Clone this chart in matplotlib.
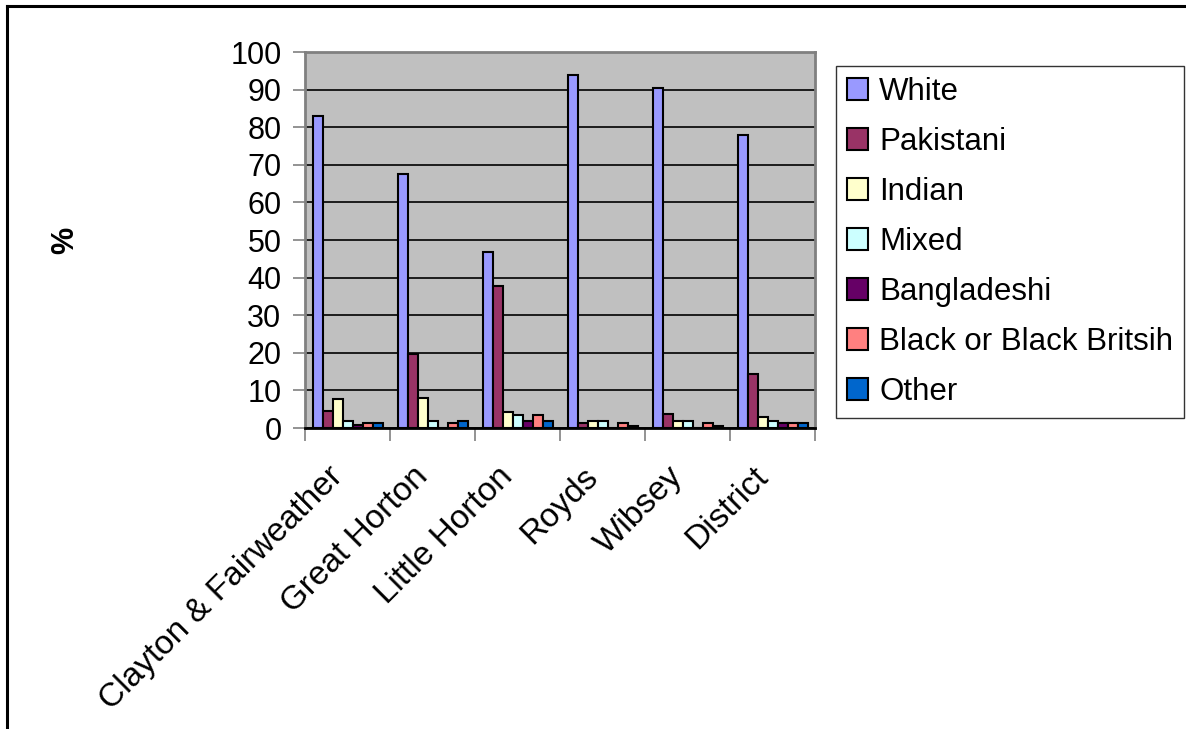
import numpy as np
from matplotlib import pyplot as plt
from matplotlib.lines import Line2D
from matplotlib.transforms import ScaledTranslation

wards = ['Clayton & Fairweather', 'Great Horton', 'Little Horton', 'Royds', 'Wibsey', 'District']
groups = ['White', 'Pakistani', 'Indian', 'Mixed', 'Bangladeshi', 'Black or Black Britsih', 'Other']

white = [83.0, 67.6, 46.8, 94.0, 90.4, 77.9]
pakistani = [4.6, 19.6, 37.8, 1.2, 3.6, 14.4]
indian = [7.6, 8.1, 4.2, 1.8, 1.9, 3.0]
mixed = [1.8, 1.9, 3.5, 1.8, 1.9, 1.9]
bangladeshi = [0.7, 0.0, 1.8, 0.0, 0.0, 1.3]
black = [1.4, 1.3, 3.5, 1.3, 1.3, 1.3]
other = [1.4, 1.9, 1.8, 0.6, 0.6, 1.3]

series = [white, pakistani, indian, mixed, bangladeshi, black, other]
colors = ['#9999FF', '#993366', '#FFFFCC', '#CCFFFF', '#660066', '#FF8080', '#0066CC']

plt.rcParams['font.family'] = ['Liberation Sans', 'DejaVu Sans']

fig = plt.figure(figsize=(11.86, 7.29), dpi=100)
ax = fig.add_axes([305 / 1186, 1 - 428 / 729, 510 / 1186, 376 / 729])
ax.set_facecolor('#C0C0C0')

n = len(series)
width = 1 / (n + 1.5)
x = np.arange(len(wards))
for i, (vals, color, name) in enumerate(zip(series, colors, groups)):
    pos = x + 0.75 * width + (i + 0.5) * width
    ax.bar(pos, vals, width=width, color=color, edgecolor='black', linewidth=1.5,
           label=name, zorder=3)

ax.set_xlim(0, len(wards))
ax.set_ylim(0, 100)
ax.set_yticks(range(0, 101, 10))
ax.yaxis.grid(True, color='black', linewidth=1.2, zorder=1)
ax.set_axisbelow(True)

ax.set_xticks(np.arange(len(wards) + 1))
ax.set_xticklabels([])
ax.set_xticks(x + 0.5, minor=True)
ax.set_xticklabels(wards, minor=True, rotation=45, ha='right', va='top',
                   rotation_mode='anchor', fontsize=24)
ax.tick_params(axis='x', which='minor', length=0, pad=18)
ax.tick_params(axis='x', which='major', length=9, width=1.2, color='#808080')
ax.tick_params(axis='y', length=9, width=1.2, color='#808080', labelsize=22, pad=8)

# nudge the slanted ward names left/down
shift = ScaledTranslation(-20 / 100, -8 / 100, fig.dpi_scale_trans)
for lbl in ax.get_xticklabels(minor=True):
    lbl.set_transform(lbl.get_transform() + shift)

for side in ['top', 'right', 'left']:
    ax.spines[side].set_color('#808080')
    ax.spines[side].set_linewidth(2)
ax.spines['bottom'].set_color('black')
ax.spines['bottom'].set_linewidth(2)

ax.set_ylabel('%', fontsize=22, fontweight='bold')
ax.yaxis.set_label_coords(-0.44, 0.5)

leg = fig.legend(loc='upper left', bbox_to_anchor=(836 / 1186, 1 - 66 / 729),
                 fontsize=22.5, frameon=True, fancybox=False, edgecolor='black',
                 handlelength=0.66, handleheight=0.66, handletextpad=0.37,
                 labelspacing=0.64, borderpad=0.35, borderaxespad=0)
leg.get_frame().set_linewidth(1)

# outer chart frame (top and left edges)
fig.add_artist(Line2D([7 / 1186, 1], [1 - 6 / 729, 1 - 6 / 729], color='black', linewidth=2.2,
                      transform=fig.transFigure))
fig.add_artist(Line2D([7 / 1186, 7 / 1186], [0, 1 - 6 / 729], color='black', linewidth=2.2,
                      transform=fig.transFigure))

plt.savefig('out.png', dpi=100)
